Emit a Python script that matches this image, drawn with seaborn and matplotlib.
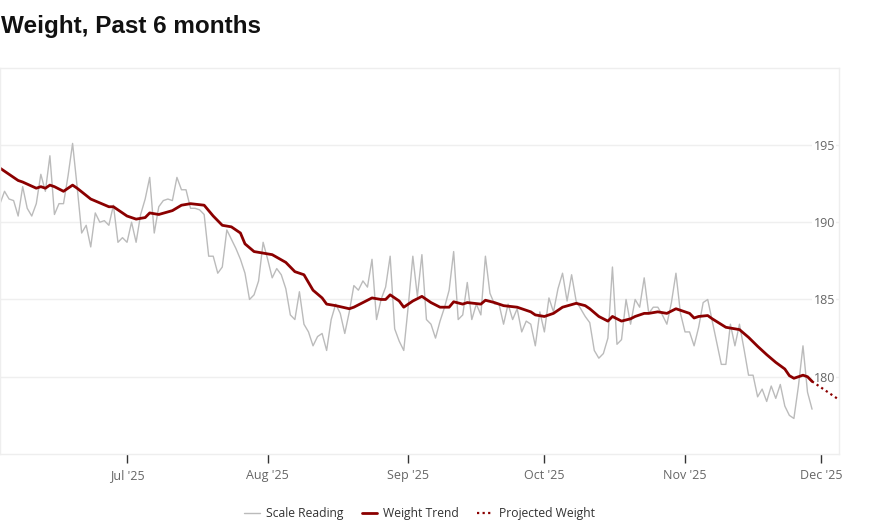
import pandas as pd
import matplotlib
matplotlib.use("Agg")
import matplotlib.pyplot as plt
import matplotlib.dates as mdates
import seaborn as sns

sns.set_theme(style="white")
plt.rcParams['font.family'] = ['Open Sans', 'DejaVu Sans']

# Daily scale readings, starting 3 Jun 2025
start_date = "2025-06-03"
scale_reading = [
    191.2, 192.0, 191.5, 191.4, 190.4, 192.3, 190.9, 190.4, 191.2, 193.1,
    192.0, 194.3, 190.5, 191.2, 191.2, 193.0, 195.1, 192.3, 189.3, 189.8,
    188.4, 190.6, 190.0, 190.1, 189.8, 191.1, 188.7, 189.0, 188.7, 190.0,
    188.7, 190.5, 191.5, 192.9, 189.3, 191.0, 191.4, 191.5, 191.4, 192.9,
    192.1, 192.1, 190.9, 190.9, 190.8, 190.5, 187.8, 187.8, 186.7, 187.1,
    189.5, 188.9, 188.3, 187.6, 186.7, 185.0, 185.3, 186.2, 188.7, 187.6,
    186.4, 187.0, 186.6, 185.7, 184.0, 183.7, 185.5, 183.4, 182.9, 182.0,
    182.6, 182.8, 181.7, 183.7, 184.7, 184.1, 182.8, 184.2, 185.9, 185.6,
    186.2, 185.8, 187.6, 183.7, 185.0, 185.8, 187.8, 183.1, 182.3, 181.7,
    184.6, 187.8, 185.2, 187.9, 183.7, 183.4, 182.5, 183.6, 184.5, 185.6,
    188.1, 183.7, 184.0, 186.1, 183.7, 184.7, 184.0, 187.8, 185.4, 184.7,
    184.7, 183.4, 184.7, 183.7, 184.4, 182.9, 183.6, 183.4, 182.0, 184.2,
    182.9, 185.1, 184.2, 185.7, 186.7, 184.9, 186.6, 184.9, 184.4, 183.9,
    183.5, 181.7, 181.2, 181.5, 182.5, 187.1, 182.1, 182.4, 185.0, 183.4,
    185.0, 184.5, 186.4, 184.1, 184.5, 184.5, 184.0, 183.4, 184.8, 186.7,
    184.1, 182.9, 182.9, 182.0, 183.2, 184.8, 185.0, 183.6, 182.2, 180.8,
    180.8, 183.4, 182.0, 183.4, 181.8, 180.1, 180.1, 178.7, 179.2, 178.4,
    179.4, 178.6, 179.5, 178.1, 177.5, 177.3, 179.4, 182.0, 179.0, 177.9,
]

# Trend line (days after start date, weight)
trend_day = [
    0, 4, 5, 8, 9, 10, 11, 12, 14, 16, 17, 20, 24, 25, 28, 30, 32, 33, 35, 38,
    40, 42, 45, 47, 49, 51, 53, 54, 56, 58, 60, 63, 65, 67, 69, 71, 72, 74, 77, 78,
    80, 82, 84, 85, 86, 88, 89, 91, 93, 95, 97, 99, 100, 102, 103, 106, 107, 109, 111, 114,
    116, 117, 118, 120, 122, 124, 127, 129, 130, 132, 134, 135, 137, 139, 140, 142, 143, 145, 147, 149,
    150, 152, 153, 154, 156, 157, 160, 161, 163, 165, 167, 169, 171, 173, 174, 175, 177, 178, 179,
]
trend_weight = [
    193.5, 192.7, 192.6, 192.2, 192.3, 192.2, 192.4, 192.3, 192.0, 192.4,
    192.2, 191.5, 191.0, 191.0, 190.4, 190.2, 190.3, 190.6, 190.5, 190.75,
    191.1, 191.2, 191.1, 190.4, 189.8, 189.7, 189.3, 188.6, 188.1, 188.0,
    187.9, 187.4, 186.8, 186.6, 185.6, 185.1, 184.7, 184.6, 184.4, 184.5,
    184.8, 185.1, 185.0, 185.0, 185.3, 184.9, 184.5, 184.9, 185.2, 184.8,
    184.5, 184.5, 184.85, 184.7, 184.8, 184.7, 184.95, 184.8, 184.6, 184.5,
    184.3, 184.2, 184.0, 183.9, 184.1, 184.5, 184.75, 184.6, 184.4, 183.9,
    183.6, 183.9, 183.6, 183.75, 183.9, 184.1, 184.1, 184.2, 184.1, 184.4,
    184.3, 184.1, 183.8, 183.9, 183.96, 183.75, 183.2, 183.15, 183.05, 182.55,
    181.97, 181.43, 180.93, 180.5, 180.07, 179.9, 180.1, 180.0, 179.7,
]

# Projection from the last trend value
proj_day = [179, 186]
proj_weight = [179.7, 178.3]

start = pd.Timestamp(start_date)
df_scale = pd.DataFrame({
    "date": pd.date_range(start, periods=len(scale_reading), freq="D"),
    "weight": scale_reading,
})
df_trend = pd.DataFrame({
    "date": start + pd.to_timedelta(trend_day, unit="D"),
    "weight": trend_weight,
})
df_proj = pd.DataFrame({
    "date": start + pd.to_timedelta(proj_day, unit="D"),
    "weight": proj_weight,
})

fig = plt.figure(figsize=(8.79, 5.21), dpi=100)
ax = fig.add_axes([0.0, 0.1286, 0.9548, 0.7415])

sns.lineplot(data=df_scale, x="date", y="weight", ax=ax, color="#bbbbbb",
             linewidth=1, label="Scale Reading")
sns.lineplot(data=df_trend, x="date", y="weight", ax=ax, color="#8b0000",
             linewidth=2, label="Weight Trend")
sns.lineplot(data=df_proj, x="date", y="weight", ax=ax, color="#8b0000",
             linewidth=1.6, linestyle=(0, (1, 1.5)), label="Projected Weight")

handles, labels = ax.get_legend_handles_labels()
ax.get_legend().remove()

ax.set_xlim(start, pd.Timestamp("2025-12-05"))
ax.set_ylim(175, 200)
ax.set_yticks([180, 185, 190, 195])
ax.set_xlabel("")
ax.set_ylabel("")

ax.xaxis.set_major_locator(mdates.MonthLocator())
ax.xaxis.set_major_formatter(mdates.DateFormatter("%b '%y"))

ax.grid(axis="y", color="#efefef", linewidth=1)
ax.yaxis.tick_right()
ax.tick_params(axis="y", length=0, pad=-3, labelcolor="#666666", labelsize=9)
ax.tick_params(axis="x", bottom=True, length=6.5, width=1, color="#333333",
               pad=4, labelcolor="#666666", labelsize=9)
for lbl in ax.get_yticklabels():
    lbl.set_horizontalalignment("right")
    lbl.set_bbox(dict(facecolor="white", edgecolor="none", pad=1))

for sp in ax.spines.values():
    sp.set_visible(True)
    sp.set_color("#eeeeee")
    sp.set_linewidth(1)

fig.text(0.001, 1 - 26 / 521, "Weight, Past 6 months", fontsize=17.5,
         fontweight="bold", family=["Liberation Sans", "DejaVu Sans"],
         va="center", ha="left", color="#111111")

leg = fig.legend(handles, labels, loc="center", bbox_to_anchor=(0.4774, 7 / 521),
                 ncol=3, frameon=False, fontsize=8.7, handlelength=1.3,
                 handletextpad=0.5, columnspacing=1.5)
for t in leg.get_texts():
    t.set_color("#333333")

fig.savefig("out.png", dpi=100)
